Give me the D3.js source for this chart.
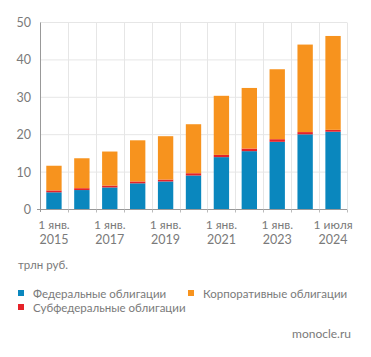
<!DOCTYPE html>
<html><head><meta charset="utf-8">
<script src="https://cdn.jsdelivr.net/npm/d3@7"></script>
<style>body{margin:0;background:#fff}svg{display:block}text{font-family:Lato,sans-serif}</style>
</head><body>
<script>
const categories = ["2015","2016","2017","2018","2019","2020","2021","2022","2023","2024","2024-07"];
const tickLine1 = ["1 янв.","","1 янв.","","1 янв.","","1 янв.","","1 янв.","","1 июля"];
const tickLine2 = ["2015","","2017","","2019","","2021","","2023","","2024"];
const federal = [4.6,5.2,5.9,7.0,7.5,9.1,14.0,15.6,18.1,20.1,20.8];
const subfederal = [0.5,0.5,0.5,0.5,0.5,0.6,0.6,0.7,0.7,0.6,0.5];
const corporate = [6.6,8.0,9.1,11.0,11.6,13.1,15.8,16.2,18.7,23.4,25.1];
const seriesNames = ["Федеральные облигации","Субфедеральные облигации","Корпоративные облигации"];
const colors = ["#0a87be","#e52229","#f7931e"];
const yTicks = [0,10,20,30,40,50];

const W=371,H=357;
const svg=d3.select("body").append("svg").attr("width",W).attr("height",H);
const x=d3.scaleBand().domain(categories).range([40,347]).paddingInner(0).paddingOuter(0);
const y=d3.scaleLinear().domain([0,50]).range([209.5,22.5]);
const grey="#7a7a7a";

// grid
const g=svg.append("g");
g.selectAll(".hg").data(yTicks.slice(1)).join("line")
 .attr("x1",40).attr("x2",347).attr("y1",d=>y(d)).attr("y2",d=>y(d))
 .attr("stroke","#e6e6e6").attr("stroke-width",1);
const bounds=categories.map(c=>x(c)+x.bandwidth());
g.selectAll(".vg").data(bounds).join("line")
 .attr("x1",d=>Math.round(d)+0.5).attr("x2",d=>Math.round(d)+0.5).attr("y1",y(50)).attr("y2",y(0))
 .attr("stroke","#e6e6e6").attr("stroke-width",1);

// bars
const data=categories.map((c,i)=>({c,federal:federal[i],subfederal:subfederal[i],corporate:corporate[i]}));
const stack=d3.stack().keys(["federal","subfederal","corporate"])(data);
const bw=x.bandwidth()*0.55;
svg.append("g").selectAll("g").data(stack).join("g").attr("fill",(d,i)=>colors[i])
 .selectAll("rect").data(d=>d).join("rect")
 .attr("x",d=>x(d.data.c)+(x.bandwidth()-bw)/2).attr("width",bw)
 .attr("y",d=>y(d[1])).attr("height",d=>y(d[0])-y(d[1]));

// axes
svg.append("line").attr("x1",40.5).attr("x2",40.5).attr("y1",y(50)).attr("y2",212).attr("stroke","#999");
svg.append("line").attr("x1",37).attr("x2",347).attr("y1",y(0)).attr("y2",y(0)).attr("stroke","#999");
svg.append("g").selectAll("line").data(bounds).join("line")
 .attr("x1",d=>Math.round(d)+0.5).attr("x2",d=>Math.round(d)+0.5).attr("y1",y(0)).attr("y2",y(0)+3).attr("stroke","#bbb");

svg.append("g").selectAll("text").data(yTicks).join("text")
 .attr("x",31).attr("y",d=>y(d)+4.5).attr("text-anchor","end")
 .attr("font-size",12.5).attr("fill",grey).text(d=>d);

const xl=svg.append("g").selectAll("g").data(categories.map((c,i)=>({c,a:tickLine1[i],b:tickLine2[i]})).filter(d=>d.a)).join("g");
xl.append("text").attr("x",d=>x(d.c)+x.bandwidth()/2).attr("y",229).attr("text-anchor","middle").attr("font-size",12).attr("fill",grey).text(d=>d.a);
xl.append("text").attr("x",d=>x(d.c)+x.bandwidth()/2).attr("y",243.5).attr("text-anchor","middle").attr("font-size",12.5).attr("fill",grey).text(d=>d.b);

svg.append("text").attr("x",18).attr("y",269).attr("font-size",11.5).attr("fill",grey).text("трлн руб.");

// legend
const leg=[{i:0,x:18,y:298},{i:2,x:188,y:298},{i:1,x:18,y:312}];
const lg=svg.append("g").selectAll("g").data(leg).join("g");
lg.append("rect").attr("x",d=>d.x).attr("y",d=>d.y-8).attr("width",6).attr("height",6).attr("fill",d=>colors[d.i]);
lg.append("text").attr("x",d=>d.x+15).attr("y",d=>d.y).attr("font-size",11.5).attr("fill",grey).text(d=>seriesNames[d.i]);

svg.append("text").attr("x",351).attr("y",338).attr("text-anchor","end").attr("font-size",12).attr("fill",grey).text("monocle.ru");
</script>
</body></html>
